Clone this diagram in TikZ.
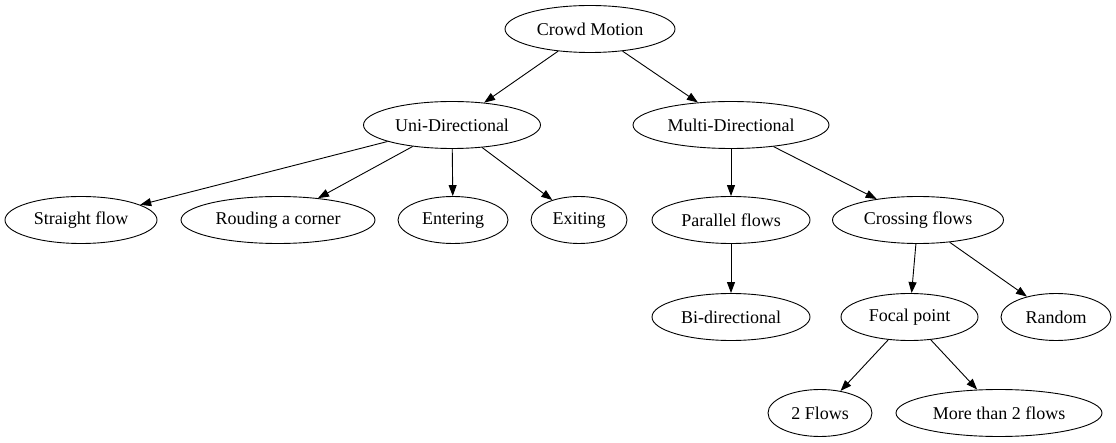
\documentclass[tikz,border=0pt]{standalone}
\usepackage{fontspec}
\setmainfont{Liberation Serif}
\usetikzlibrary{arrows.meta,shapes.geometric}
\begin{document}
\begin{tikzpicture}[x=1pt,y=-1pt,
  nd/.style={ellipse,draw,line width=0.9pt,inner sep=0pt,minimum height=47pt,font=\fontsize{18pt}{20pt}\selectfont},
  ed/.style={draw,line width=0.9pt,-{Triangle[length=11pt,width=8pt]}}]
\useasboundingbox (0,0) rectangle (1116,443);
\node[nd,minimum width=170pt] (cm) at (590,29) {Crowd Motion};
\node[nd,minimum width=177pt] (ud) at (452,125) {Uni-Directional};
\node[nd,minimum width=196pt] (md) at (731,125) {Multi-Directional};
\node[nd,minimum width=152pt] (sf) at (81,220) {Straight flow};
\node[nd,minimum width=194pt] (rc) at (278,220) {Rouding a corner};
\node[nd,minimum width=110pt] (en) at (453,220) {Entering};
\node[nd,minimum width=96pt] (ex) at (579,220) {Exiting};
\node[nd,minimum width=158pt] (pf) at (731,220) {Parallel flows};
\node[nd,minimum width=171pt] (cf) at (918,220) {Crossing flows};
\node[nd,minimum width=158pt] (bd) at (731,317) {Bi-directional};
\node[nd,minimum width=137pt] (fp) at (909.5,317) {Focal point};
\node[nd,minimum width=110pt] (ra) at (1056,317) {Random};
\node[nd,minimum width=104pt] (tf) at (820,413) {2 Flows};
\node[nd,minimum width=206pt] (mf) at (999,413) {More than 2 flows};
\draw[ed] (cm) -- (ud);
\draw[ed] (cm) -- (md);
\draw[ed] (ud) -- (sf);
\draw[ed] (ud) -- (rc);
\draw[ed] (ud) -- (en);
\draw[ed] (ud) -- (ex);
\draw[ed] (md) -- (pf);
\draw[ed] (md) -- (cf);
\draw[ed] (pf) -- (bd);
\draw[ed] (cf) -- (fp);
\draw[ed] (cf) -- (ra);
\draw[ed] (fp) -- (tf);
\draw[ed] (fp) -- (mf);
\end{tikzpicture}
\end{document}
